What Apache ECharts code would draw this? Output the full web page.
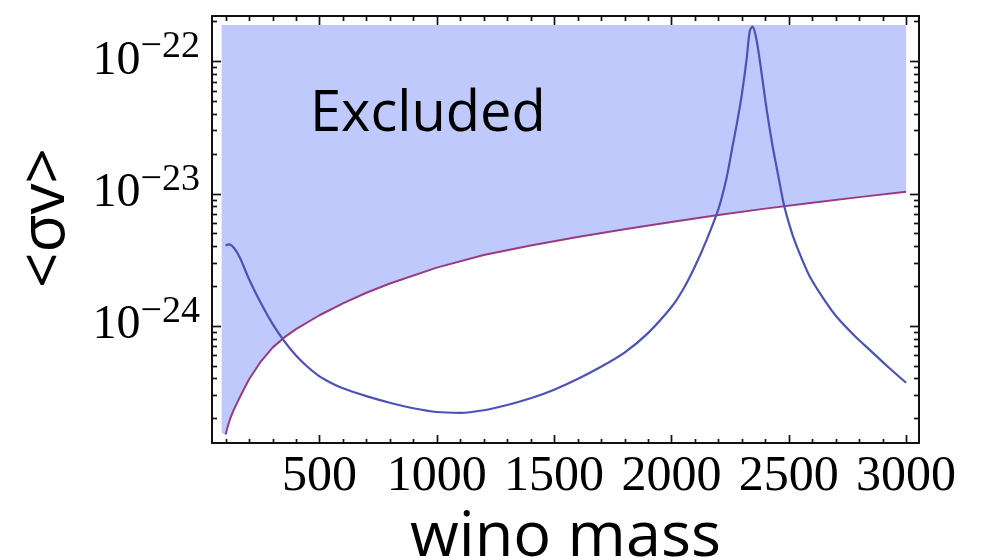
<!DOCTYPE html>
<html>
<head>
<meta charset="utf-8">
<script src="https://cdn.jsdelivr.net/npm/echarts@6/dist/echarts.min.js"></script>
<style>
  html, body { margin: 0; padding: 0; background: #ffffff; }
  #chart { width: 986px; height: 560px; }
</style>
</head>
<body>
<div id="chart"></div>
<script>
// Upper limit on the annihilation cross section vs. wino mass (lower edge of the excluded band)
const limitMass = [100, 110, 120, 135, 150, 175, 200, 250, 300, 350, 400, 500, 600, 700, 800, 1000, 1200, 1400, 1600, 1800, 2000, 2200, 2400, 2600, 2800, 3000];
const limitValue = [1.51e-25, 1.76e-25, 2.00e-25, 2.32e-25, 2.64e-25, 3.24e-25, 3.94e-25, 5.37e-25, 6.84e-25, 8.17e-25, 9.44e-25, 1.202e-24, 1.479e-24, 1.778e-24, 2.089e-24, 2.754e-24, 3.428e-24, 4.055e-24, 4.699e-24, 5.370e-24, 6.095e-24, 6.887e-24, 7.691e-24, 8.531e-24, 9.397e-24, 1.030e-23];

// Left corner of the shaded band and its upper edge
const bandStartMass = [83];
const bandStartValue = [1.55e-25];
const bandTop = 1.88e-22;

// Predicted wino <σv>, with the Sommerfeld resonance
const winoMass = [100, 116, 135, 160, 200, 250, 300, 350, 400, 450, 500, 550, 600, 700, 800, 900, 1000, 1100, 1200, 1300, 1400, 1500, 1600, 1700, 1800, 1900, 2000, 2050, 2100, 2150, 2200, 2235, 2260, 2280, 2300, 2320, 2334, 2346, 2358, 2370, 2385, 2406, 2430, 2448, 2465, 2480, 2500, 2519, 2550, 2590, 2650, 2704, 2780, 2846, 2920, 3000];
const winoValue = [4.055e-24, 4.13e-24, 3.89e-24, 3.30e-24, 2.25e-24, 1.486e-24, 1.035e-24, 7.67e-25, 5.96e-25, 4.88e-25, 4.15e-25, 3.70e-25, 3.37e-25, 2.94e-25, 2.62e-25, 2.38e-25, 2.23e-25, 2.20e-25, 2.30e-25, 2.52e-25, 2.83e-25, 3.29e-25, 3.96e-25, 4.90e-25, 6.27e-25, 8.81e-25, 1.387e-24, 1.89e-24, 2.81e-24, 4.47e-24, 7.62e-24, 1.318e-23, 2.26e-23, 3.47e-23, 5.62e-23, 1.023e-22, 1.70e-22, 1.83e-22, 1.585e-22, 1.216e-22, 7.94e-23, 4.29e-23, 2.34e-23, 1.585e-23, 1.104e-23, 8.13e-24, 6.03e-24, 4.71e-24, 3.39e-24, 2.35e-24, 1.585e-24, 1.17e-24, 8.41e-25, 6.55e-25, 4.95e-25, 3.71e-25];

// Axis ranges and ticks
const xRange = [42, 3055];
const yRange = [1.3e-25, 2.2e-22];
const xMajorTicks = [500, 1000, 1500, 2000, 2500, 3000];
const xMinorTicks = [100, 200, 300, 400, 600, 700, 800, 900, 1100, 1200, 1300, 1400, 1600, 1700, 1800, 1900, 2100, 2200, 2300, 2400, 2600, 2700, 2800, 2900];
const yMajorTicks = [1e-24, 1e-23, 1e-22];
const yMinorTicks = [2e-25, 3e-25, 4e-25, 5e-25, 6e-25, 7e-25, 8e-25, 9e-25,
                     2e-24, 3e-24, 4e-24, 5e-24, 6e-24, 7e-24, 8e-24, 9e-24,
                     2e-23, 3e-23, 4e-23, 5e-23, 6e-23, 7e-23, 8e-23, 9e-23, 2e-22];

const serif = 'Liberation Serif';
const sans = 'Open Sans';
const ink = '#111111';
const bandColor = '#bfc9fb';

const bandMass = bandStartMass.concat(limitMass);
const bandBase = bandStartValue.concat(limitValue);

// Inward frame ticks on all four sides, placed through the axis scales
function tickSeries(dir, values, len) {
  return {
    type: 'custom', silent: true, clip: false, z: 5,
    renderItem: function (params, api) {
      const cs = params.coordSys;
      const p = api.coord([api.value(0), api.value(1)]);
      const lines = [];
      if (dir === 'x') {
        const x = Math.round(p[0]) + 0.5;
        lines.push([x, cs.y + cs.height, x, cs.y + cs.height - len]);
        lines.push([x, cs.y, x, cs.y + len + 1]);
      } else {
        const y = Math.round(p[1]) + 0.5;
        lines.push([cs.x, y, cs.x + len, y]);
        lines.push([cs.x + cs.width, y, cs.x + cs.width - len, y]);
      }
      return {
        type: 'group',
        children: lines.map(l => ({
          type: 'line',
          shape: { x1: l[0], y1: l[1], x2: l[2], y2: l[3] },
          style: { stroke: ink, lineWidth: 1.7 }
        }))
      };
    },
    data: dir === 'x' ? values.map(v => [v, yRange[0]]) : values.map(v => [xRange[0], v])
  };
}

const chart = echarts.init(document.getElementById('chart'), null, { renderer: 'canvas' });

chart.setOption({
  animation: false,
  backgroundColor: '#ffffff',
  grid: { left: 212, right: 67, top: 16, bottom: 117, outerBoundsMode: 'none' },
  xAxis: [
    {
      type: 'value', position: 'bottom', min: xRange[0], max: xRange[1],
      axisLine: { show: true, onZero: false, lineStyle: { color: ink, width: 2 } },
      axisTick: { show: false },
      splitLine: { show: false },
      axisLabel: {
        customValues: xMajorTicks, margin: 9,
        formatter: v => String(v),
        fontFamily: serif, fontSize: 50, color: '#000'
      },
      name: 'wino mass', nameLocation: 'middle', nameGap: 61,
      nameTextStyle: { fontFamily: sans, fontSize: 63, color: '#000' }
    },
    {
      type: 'value', position: 'top', min: xRange[0], max: xRange[1],
      axisLine: { show: true, onZero: false, lineStyle: { color: ink, width: 2 } },
      axisTick: { show: false }, axisLabel: { show: false }, splitLine: { show: false }
    }
  ],
  yAxis: [
    {
      type: 'log', logBase: 10, position: 'left', min: yRange[0], max: yRange[1],
      axisLine: { show: true, onZero: false, lineStyle: { color: ink, width: 2 } },
      axisTick: { show: false },
      splitLine: { show: false },
      axisLabel: {
        margin: 12,
        formatter: function (v) {
          if (!(v > 0)) return '';
          const e = Math.round(Math.log10(v));
          return '{b|10}{s|\u2212' + (-e) + '}';
        },
        rich: {
          b: { fontFamily: serif, fontSize: 48, lineHeight: 66, verticalAlign: 'middle', color: '#000' },
          s: { fontFamily: serif, fontSize: 38, lineHeight: 38, verticalAlign: 'top', color: '#000' }
        }
      }
    },
    {
      type: 'log', logBase: 10, position: 'right', min: yRange[0], max: yRange[1],
      axisLine: { show: true, onZero: false, lineStyle: { color: ink, width: 2 } },
      axisTick: { show: false }, axisLabel: { show: false }, splitLine: { show: false }
    }
  ],
  graphic: [
    {
      type: 'text', left: 310, top: 87, z: 10,
      style: { text: 'Excluded', fontFamily: sans, fontSize: 56, fill: '#000' }
    },
    {
      type: 'text', x: 46, y: 218, rotation: Math.PI / 2, z: 10,
      style: { text: '<\u03c3v>', fontFamily: sans, fontSize: 62, fill: '#000',
               align: 'center', verticalAlign: 'middle' }
    }
  ],
  series: [
    {
      name: 'Excluded', type: 'custom', silent: true, clip: true, z: 1,
      renderItem: function (params, api) {
        if (params.dataIndex !== 0) return null;
        const pts = bandMass.map((m, i) => api.coord([m, bandBase[i]]));
        pts.push(api.coord([bandMass[bandMass.length - 1], bandTop]));
        pts.push(api.coord([bandMass[0], bandTop]));
        return { type: 'polygon', shape: { points: pts }, style: { fill: bandColor } };
      },
      data: [[bandMass[0], bandTop]]
    },
    {
      name: 'limit', type: 'line', smooth: false, showSymbol: false, silent: true, z: 2,
      lineStyle: { color: '#9a3b80', width: 2 },
      data: limitMass.map((m, i) => [m, limitValue[i]])
    },
    {
      name: 'wino', type: 'line', smooth: 0.3, showSymbol: false, silent: true, z: 3,
      lineStyle: { color: '#4c52b8', width: 2.2 },
      data: winoMass.map((m, i) => [m, winoValue[i]])
    },
    tickSeries('x', xMajorTicks, 8),
    tickSeries('x', xMinorTicks, 4),
    tickSeries('y', yMajorTicks, 9),
    tickSeries('y', yMinorTicks, 5)
  ]
});
</script>
</body>
</html>
